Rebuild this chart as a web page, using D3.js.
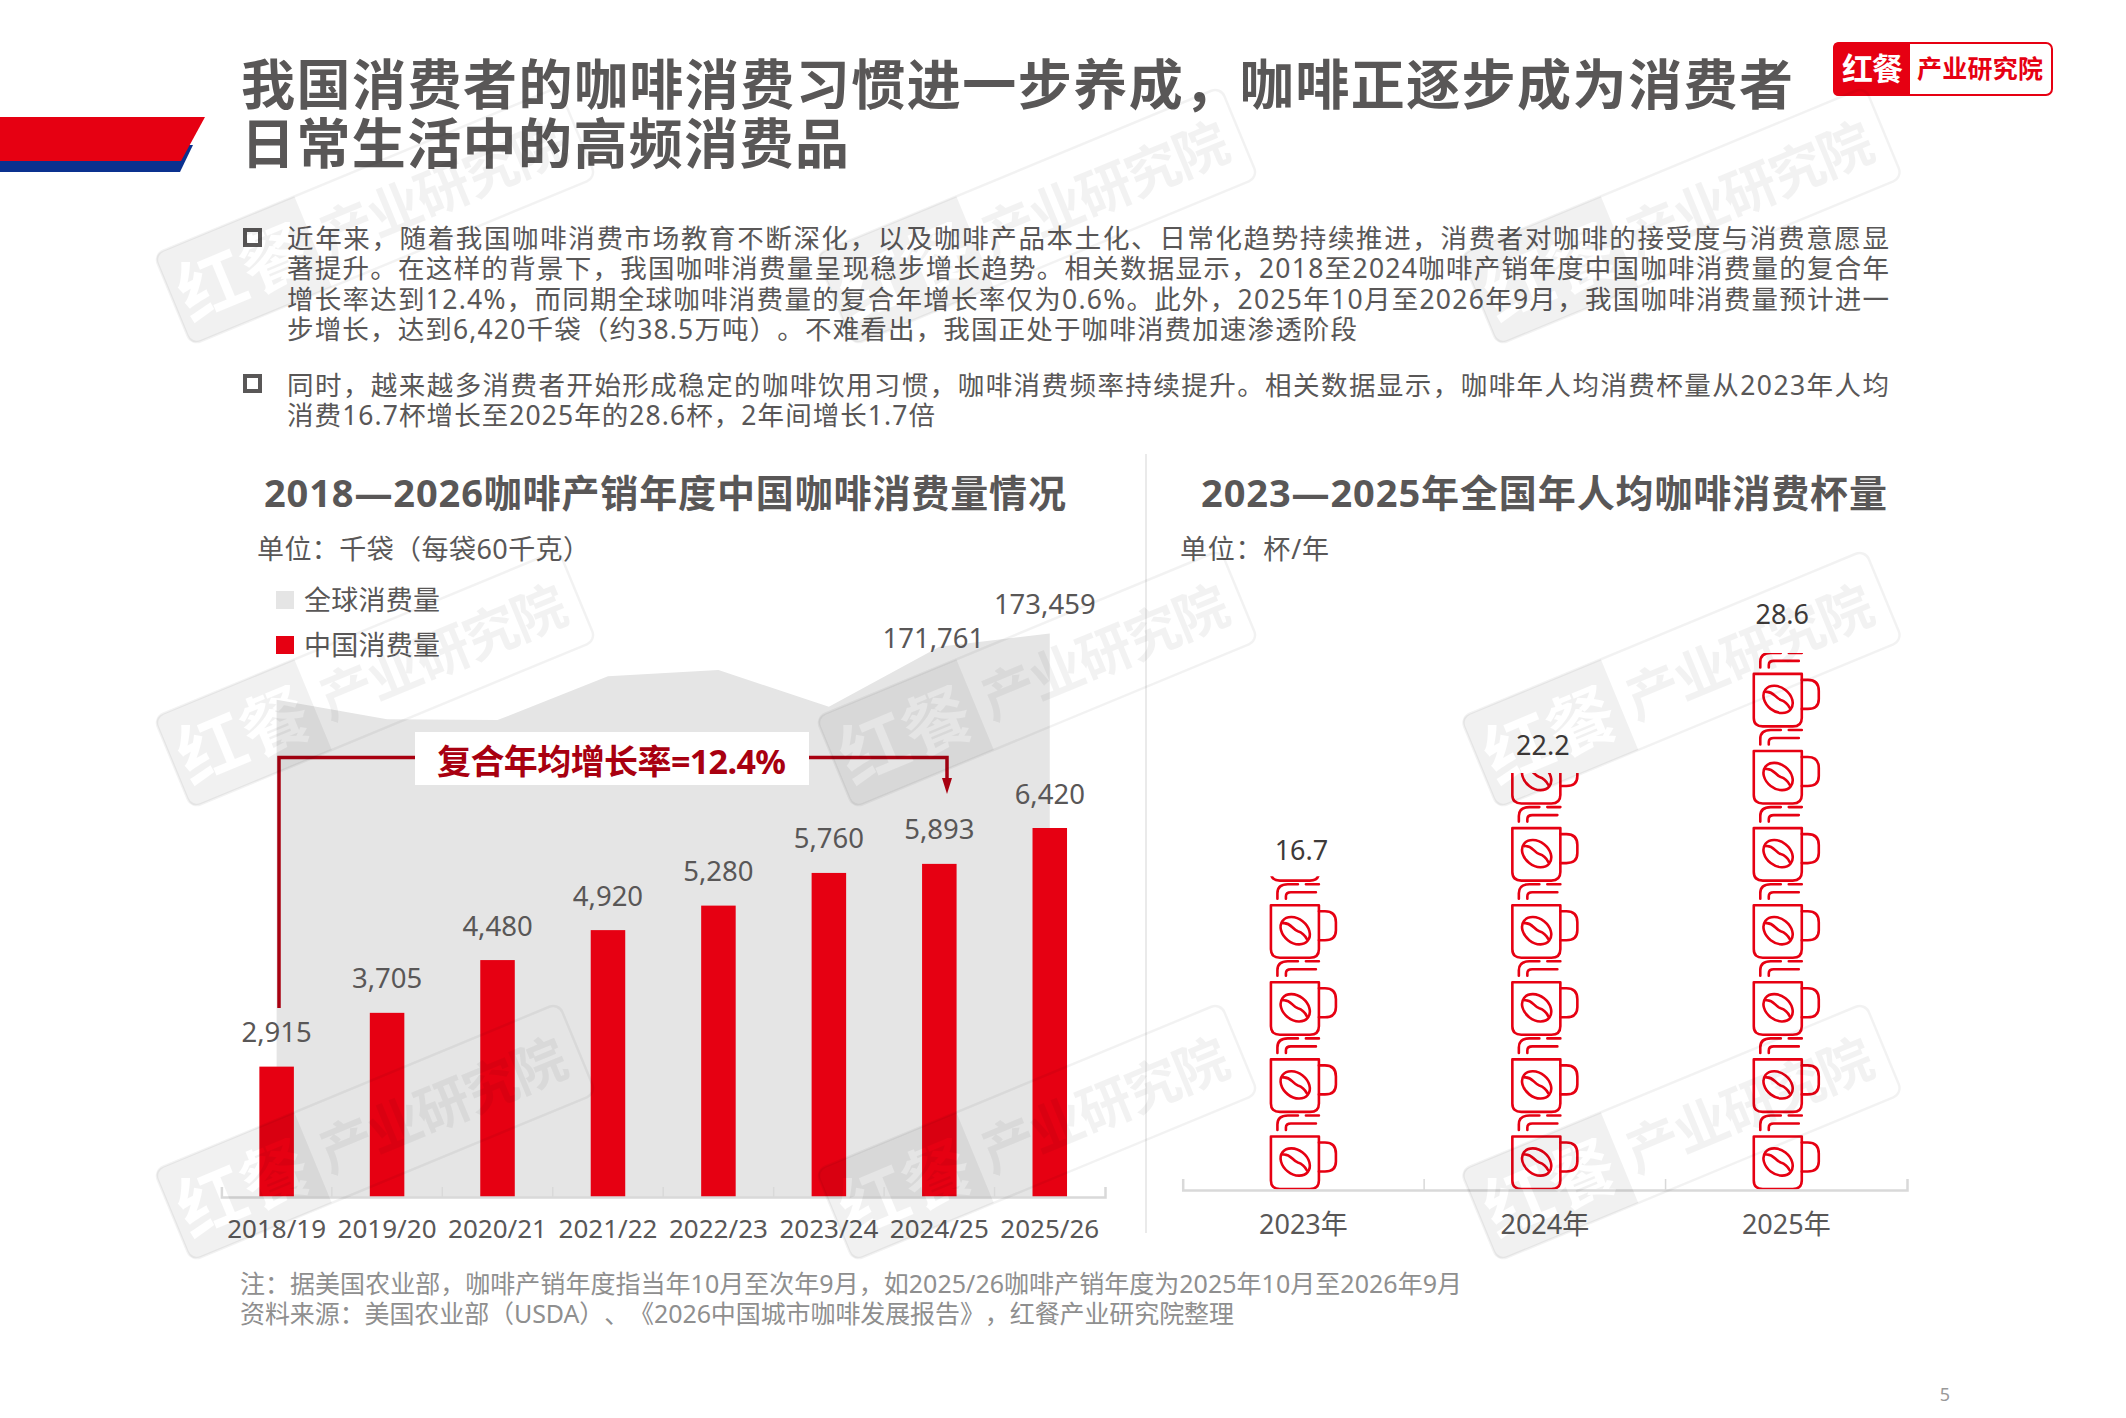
<!DOCTYPE html>
<html><head><meta charset="utf-8">
<style>html,body{margin:0;padding:0;background:#fff}svg{display:block}text{font-family:"Noto Sans","Noto Sans CJK SC",sans-serif;text-spacing-trim:space-all}</style>
<script src="https://cdn.jsdelivr.net/npm/d3@7"></script></head><body>
<script>
// ---------- data ----------
const seasons = ["2018/19","2019/20","2020/21","2021/22","2022/23","2023/24","2024/25","2025/26"];
const chinaConsumption = [2915,3705,4480,4920,5280,5760,5893,6420];
const globalConsumption = [165000,162500,162400,168000,168800,164100,171761,173459];
const globalLabelled = [6,7];
const cupYears = ["2023年","2024年","2025年"];
const cupsPerYear = [16.7,22.2,28.6];
const cupUnit = 4.11; // cups represented by one mug symbol
const legendLabels = ["全球消费量","中国消费量"];
const titleLines = ["我国消费者的咖啡消费习惯进一步养成，咖啡正逐步成为消费者","日常生活中的高频消费品"];
const bodyLines = [
 "近年来，随着我国咖啡消费市场教育不断深化，以及咖啡产品本土化、日常化趋势持续推进，消费者对咖啡的接受度与消费意愿显",
 "著提升。在这样的背景下，我国咖啡消费量呈现稳步增长趋势。相关数据显示，2018至2024咖啡产销年度中国咖啡消费量的复合年",
 "增长率达到12.4%，而同期全球咖啡消费量的复合年增长率仅为0.6%。此外，2025年10月至2026年9月，我国咖啡消费量预计进一",
 "步增长，达到6,420千袋（约38.5万吨）。不难看出，我国正处于咖啡消费加速渗透阶段",
 "同时，越来越多消费者开始形成稳定的咖啡饮用习惯，咖啡消费频率持续提升。相关数据显示，咖啡年人均消费杯量从2023年人均",
 "消费16.7杯增长至2025年的28.6杯，2年间增长1.7倍"];
const noteLines = ["注：据美国农业部，咖啡产销年度指当年10月至次年9月，如2025/26咖啡产销年度为2025年10月至2026年9月",
 "资料来源：美国农业部（USDA）、《2026中国城市咖啡发展报告》，红餐产业研究院整理"];

// ---------- layout ----------
const GREY="#595757", RED="#e60012", DARKRED="#a80010", BLUE="#0a318f";
const svg=d3.select("body").append("svg").attr("width",2126).attr("height",1418);
function txt(g,s,x,y,o={}){
  const t=g.append("text").attr("x",x).attr("y",y).attr("dominant-baseline","central")
   .attr("fill",o.fill||GREY).attr("font-size",o.size||27).attr("font-weight",o.weight||400)
   .attr("text-anchor",o.anchor||"start").text(s);
  if(o.len) t.attr("textLength",o.len).attr("lengthAdjust","spacing");
  return t;
}
// banner
svg.append("polygon").attr("points","0,145 193,145 180,172 0,172").attr("fill",BLUE);
svg.append("polygon").attr("points","0,117 205,117 181,161 0,161").attr("fill",RED);
// title
txt(svg,titleLines[0],241,84,{size:54,weight:700,len:1552});
txt(svg,titleLines[1],241,143,{size:54,weight:700,len:608});
// logo
svg.append("rect").attr("x",1834).attr("y",43).attr("width",218).attr("height",52).attr("rx",6).attr("fill","#fff").attr("stroke",RED).attr("stroke-width",2);
svg.append("path").attr("d","M1910,42 H1839 Q1833,42 1833,48 V90 Q1833,96 1839,96 H1910 Z").attr("fill",RED);
txt(svg,"红餐",1842,68,{size:31,weight:700,fill:"#fff",len:61});
txt(svg,"产业研究院",1917,68,{size:25,weight:700,fill:RED,len:126});
// body text
const bodyY=[238,268,299,329,385,415], bodyEnd=[1889,1889,1889,1357,1889,935];
bodyLines.forEach((l,i)=>txt(svg,l,287,bodyY[i],{size:26.5,len:bodyEnd[i]-287}));
[238,384].forEach(y=>svg.append("rect").attr("x",245).attr("y",y-8).attr("width",15).attr("height",15).attr("fill","none").attr("stroke",GREY).attr("stroke-width",4));
// divider
svg.append("line").attr("x1",1146).attr("x2",1146).attr("y1",454).attr("y2",1233).attr("stroke","#e3e3e3").attr("stroke-width",1.5);

// ---------- chart 1 ----------
txt(svg,"2018—2026咖啡产销年度中国咖啡消费量情况",264,492,{size:38,weight:700,len:802});
txt(svg,"单位：千袋（每袋60千克）",257,548,{size:27,len:333});
const base=1197;
const x=d3.scaleBand().domain(seasons).range([221.4,1105]);
const cx=d=>x(d)+x.bandwidth()/2;
const yChina=d3.scaleLinear().domain([1000,6420]).range([base,828]);
const yGlobal=d3.scaleLinear().domain([101500,173459]).range([base,633.5]);
const area=d3.area().x(d=>cx(d.s)).y0(base).y1(d=>yGlobal(d.v));
svg.append("path").datum(seasons.map((s,i)=>({s,v:globalConsumption[i]}))).attr("d",area).attr("fill","#e5e5e5");
const bw=x.bandwidth()*0.3125;
svg.selectAll("rect.bar").data(chinaConsumption).join("rect").attr("class","bar")
 .attr("x",(d,i)=>cx(seasons[i])-bw/2).attr("width",bw).attr("y",d=>yChina(d)).attr("height",d=>base-yChina(d)).attr("fill",RED);
const fmt=d3.format(",");
chinaConsumption.forEach((d,i)=>txt(svg,fmt(d),cx(seasons[i]),yChina(d)-35,{size:27.5,anchor:"middle"}));
const gOffsets=[-6,-5], gGaps=[-9,-30];
globalLabelled.forEach((idx,k)=>txt(svg,fmt(globalConsumption[idx]),cx(seasons[idx])+gOffsets[k],yGlobal(globalConsumption[idx])+gGaps[k],{size:27.5,anchor:"middle"}));
// axis
const axis=svg.append("g").attr("transform",`translate(0,${base})`).call(d3.axisBottom(x).tickSize(0).tickSizeOuter(-10).tickPadding(22.5));
axis.select(".domain").attr("stroke","#d9d9d9").attr("stroke-width",2.5).attr("fill","none");
axis.selectAll("text").attr("font-size",26).attr("fill",GREY);
svg.selectAll("line.tk").data(seasons.slice(1)).join("line").attr("class","tk").attr("x1",d=>x(d)).attr("x2",d=>x(d)).attr("y1",base-10).attr("y2",base).attr("stroke","#d9d9d9").attr("stroke-width",1.5);
// legend
legendLabels.forEach((l,i)=>{
  const y=600+i*45;
  svg.append("rect").attr("x",276).attr("y",y-9).attr("width",18).attr("height",18).attr("fill",i?RED:"#e5e5e5");
  txt(svg,l,304,y-1,{size:27,len:136});
});
// CAGR bracket
svg.append("path").attr("d","M279,1008 V757.5 H947 V780").attr("fill","none").attr("stroke",DARKRED).attr("stroke-width",3.5);
svg.append("path").attr("d","M942,778 H952 L947,794 Z").attr("fill",DARKRED);
svg.append("rect").attr("x",415).attr("y",732).attr("width",394).attr("height",53).attr("fill","#fff");
txt(svg,"复合年均增长率=12.4%",437,761,{size:34,weight:700,fill:DARKRED,len:349});
// notes
txt(svg,noteLines[0],240,1283,{size:25,fill:"#8f8f8f",len:1222});
txt(svg,noteLines[1],240,1313,{size:25,fill:"#8f8f8f",len:994});

// ---------- chart 2 ----------
txt(svg,"2023—2025年全国年人均咖啡消费杯量",1201,492,{size:38,weight:700,len:686});
txt(svg,"单位：杯/年",1180,548,{size:27,len:149});
const base2=1189.5;
const x2=d3.scaleBand().domain(cupYears).range([1182.7,1907]);
const y2=d3.scaleLinear().domain([0,28.6]).range([base2,653]);
const defs=svg.append("defs");
cupsPerYear.forEach((v,i)=>{
  defs.append("clipPath").attr("id","cupclip"+i).append("rect")
   .attr("x",x2(cupYears[i])).attr("width",x2.bandwidth()).attr("y",y2(v)).attr("height",base2-y2(v));
});
function mug(g){
  const s=g.append("g").attr("fill","none").attr("stroke",RED).attr("stroke-width",2.6).attr("stroke-linecap","round").attr("stroke-linejoin","round");
  s.append("path").attr("d","M0,0 H48 V44 Q48,52.5 39,52.5 H9 Q0,52.5 0,44 Z");
  s.append("path").attr("d","M48,6 H54 Q65,6 65,17 V25 Q65,35 54,35 H48");
  s.append("path").attr("d","M6.5,-6.5 V-12 Q6.5,-21 17,-21 H27 M35,-21 H48");
  s.append("path").attr("d","M15,-6.5 V-9 Q15,-13 20,-13 H45");
  s.append("ellipse").attr("rx",16).attr("ry",12).attr("transform","translate(24.3,25.5) rotate(38)");
  s.append("path").attr("d","M12,18 C20,17 21,24 27,26 C32,27.5 34,30 36,34");
}
cupsPerYear.forEach((v,i)=>{
  const g=svg.append("g").attr("clip-path",`url(#cupclip${i})`);
  const c=x2(cupYears[i])+x2.bandwidth()/2;
  d3.range(Math.ceil(v/cupUnit)).forEach(k=>{
    const m=g.append("g").attr("transform",`translate(${c-32.5},${y2(k*cupUnit)-53})`);
    mug(m);
  });
});
const cupLabelGap=[27,29,40], cupLabelDx=[-2,-2,-4];
cupsPerYear.forEach((v,i)=>txt(svg,String(v),x2(cupYears[i])+x2.bandwidth()/2+cupLabelDx[i],y2(v)-cupLabelGap[i],{size:27,anchor:"middle",fill:"#3e3a39"}));
const axis2=svg.append("g").attr("transform","translate(0,1190)").call(d3.axisBottom(x2).tickSize(0).tickSizeOuter(-11).tickPadding(25));
axis2.select(".domain").attr("stroke","#d9d9d9").attr("stroke-width",2.5).attr("fill","none");
axis2.selectAll("text").attr("font-size",27).attr("fill",GREY);
svg.selectAll("line.tk2").data(cupYears.slice(1)).join("line").attr("class","tk2").attr("x1",d=>x2(d)).attr("x2",d=>x2(d)).attr("y1",1179).attr("y2",1190).attr("stroke","#d9d9d9").attr("stroke-width",1.5);

// page number
txt(svg,"5",1945,1394,{size:18,fill:"#999",anchor:"middle"});

// ---------- watermark ----------
const stampW=438, stampH=98, panelW=152;
const mask=defs.append("mask").attr("id","wmmask").attr("maskUnits","userSpaceOnUse").attr("x",-300).attr("y",-100).attr("width",600).attr("height",200);
mask.append("rect").attr("x",-300).attr("y",-100).attr("width",600).attr("height",200).attr("fill","#fff");
txt(mask,"红餐",-stampW/2+8,0,{size:68,weight:700,fill:"#000",len:136});
const stampX=[375,1037,1681.5], stampY=[216,679,1132];
stampY.forEach(sy=>stampX.forEach(sx=>{
  const g=svg.append("g").attr("transform",`translate(${sx},${sy}) rotate(-22.5)`).attr("pointer-events","none");
  g.append("rect").attr("x",-stampW/2).attr("y",-stampH/2).attr("width",stampW).attr("height",stampH).attr("rx",10).attr("fill","none").attr("stroke","#000").attr("stroke-opacity",.05).attr("stroke-width",2.5);
  g.append("path").attr("d",`M${-stampW/2+panelW},${-stampH/2} H${-stampW/2+10} Q${-stampW/2},${-stampH/2} ${-stampW/2},${-stampH/2+10} V${stampH/2-10} Q${-stampW/2},${stampH/2} ${-stampW/2+10},${stampH/2} H${-stampW/2+panelW} Z`)
   .attr("fill","#000").attr("fill-opacity",.055).attr("mask","url(#wmmask)");
  txt(g,"产业研究院",-stampW/2+panelW+9,0,{size:54,weight:700,fill:"#000",len:262}).attr("fill-opacity",.05);
}));
</script></body></html>
